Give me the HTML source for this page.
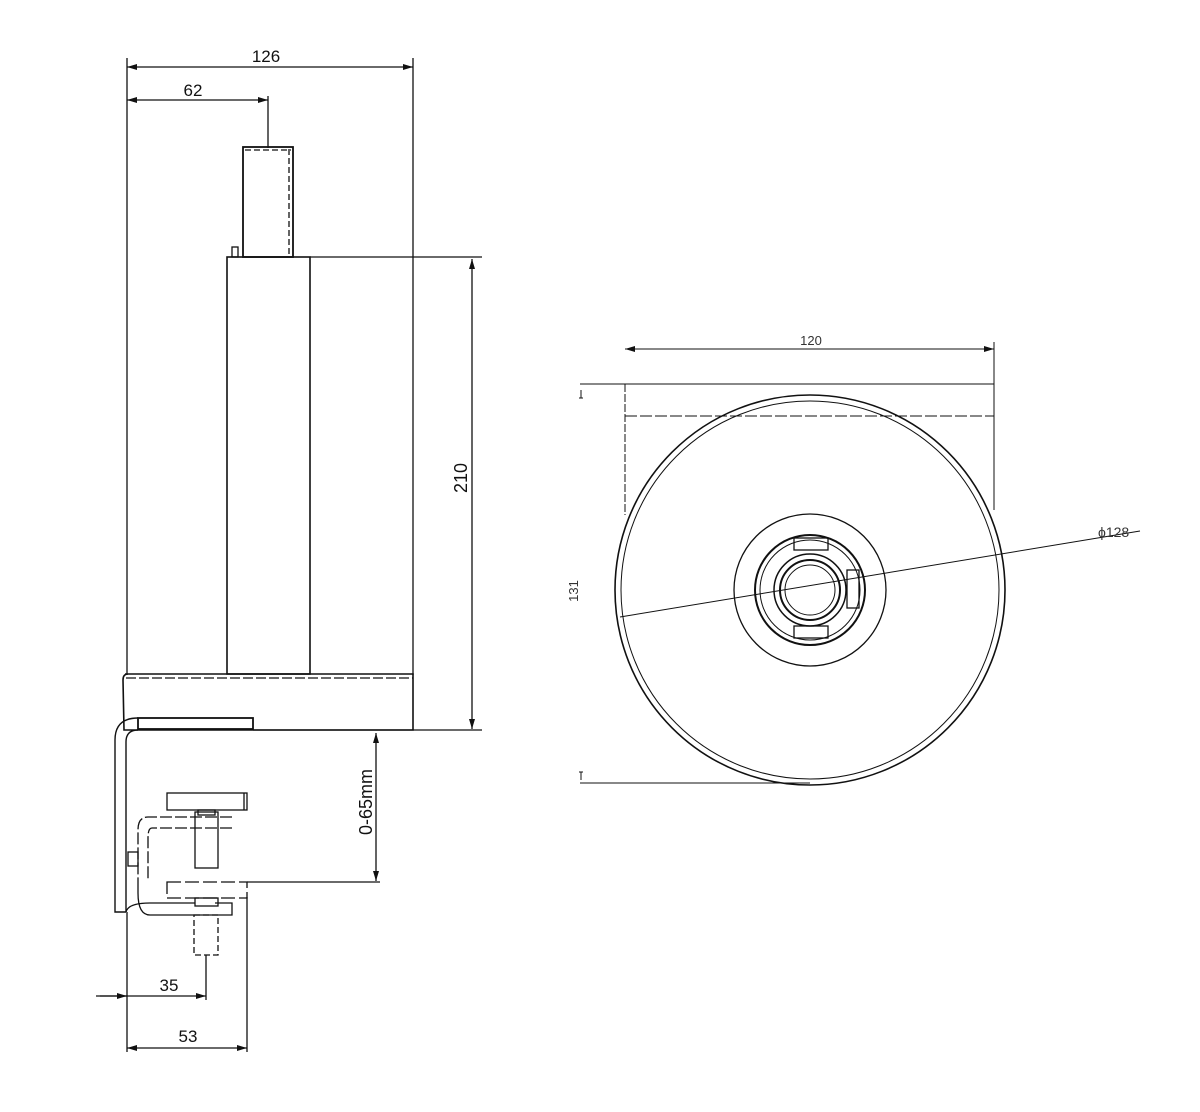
<!DOCTYPE html>
<html><head><meta charset="utf-8"><style>body{margin:0;background:#fff}svg{display:block}</style></head>
<body>
<svg width="1200" height="1112" viewBox="0 0 1200 1112" xmlns="http://www.w3.org/2000/svg" font-family="Liberation Sans, sans-serif" fill="none" stroke="#111" stroke-width="1.3">
<defs>
<marker id="a" viewBox="0 0 10 6" refX="10" refY="3" markerWidth="14" markerHeight="6" orient="auto-start-reverse" markerUnits="userSpaceOnUse"><path d="M0,0 L10,3 L0,6 z" fill="#111" stroke="none"/></marker>
</defs>
<!-- LEFT VIEW dims -->
<line x1="127" y1="58" x2="127" y2="675"/>
<line x1="413" y1="58" x2="413" y2="675"/>
<line x1="127" y1="67" x2="413" y2="67" marker-start="url(#a)" marker-end="url(#a)"/>
<text x="266" y="62" font-size="17" fill="#111" stroke="none" text-anchor="middle">126</text>
<line x1="127" y1="100" x2="268" y2="100" marker-start="url(#a)" marker-end="url(#a)"/>
<line x1="268" y1="96" x2="268" y2="148"/>
<text x="193" y="96" font-size="17" fill="#111" stroke="none" text-anchor="middle">62</text>
<!-- post -->
<rect x="243" y="147" width="50" height="110" stroke-width="1.8"/>
<line x1="289" y1="149" x2="289" y2="256" stroke-dasharray="6,3"/>
<line x1="245" y1="150" x2="291" y2="150" stroke-dasharray="6,3"/>
<rect x="232" y="247" width="6" height="10"/>
<!-- tube -->
<rect x="227" y="257" width="83" height="417" stroke-width="1.6"/>
<line x1="310" y1="257" x2="482" y2="257"/>
<line x1="472" y1="259" x2="472" y2="729" marker-start="url(#a)" marker-end="url(#a)"/>
<text font-size="18" fill="#111" stroke="none" text-anchor="middle" transform="translate(467,478) rotate(-90)">210</text>
<!-- base -->
<path d="M125,674 L413,674 L413,730 L124,730 L123,680 Q123,674 128,674" stroke-width="1.6"/>
<line x1="126" y1="678" x2="413" y2="678" stroke-dasharray="10,3"/>
<line x1="253" y1="730" x2="482" y2="730"/>
<rect x="138" y="718" width="115" height="11" stroke-width="1.8"/>
<!-- bracket -->
<path d="M138,718 Q115,718 115,740 L115,912 L126,912" stroke-width="1.4"/>
<path d="M138,730 Q126,730 126,742 L126,912" stroke-width="1.4"/>
<line x1="376" y1="733" x2="376" y2="881" marker-start="url(#a)" marker-end="url(#a)"/>
<text font-size="18" fill="#111" stroke="none" text-anchor="middle" transform="translate(372,802) rotate(-90)">0-65mm</text>
<!-- knob -->
<rect x="167" y="793" width="80" height="17"/>
<line x1="244" y1="793" x2="244" y2="810"/>
<rect x="195" y="812" width="23" height="56"/>
<rect x="198" y="810" width="17" height="5"/>
<path d="M232,817 L148,817 Q138,817 138,830 L138,880" stroke-dasharray="12,3"/>
<path d="M232,828 L152,828 Q148,828 148,838 L148,880" stroke-dasharray="12,3"/>
<rect x="128" y="852" width="10" height="14"/>
<!-- lower pad -->
<rect x="167" y="882" width="80" height="16" stroke-dasharray="14,4"/>
<line x1="247" y1="882" x2="380" y2="882"/>
<path d="M138,880 L138,893 Q138,915 150,915 L232,915 L232,903 L215,903" stroke-width="1.3"/>
<path d="M126,912 Q128,903 150,903 L195,903"/>
<rect x="195" y="898" width="23" height="8"/>
<rect x="194" y="915" width="24" height="40" stroke-dasharray="6,3"/>
<line x1="206" y1="955" x2="206" y2="1000"/>
<line x1="127" y1="912" x2="127" y2="1052"/>
<line x1="247" y1="897" x2="247" y2="1052"/>
<line x1="96" y1="996" x2="206" y2="996" marker-end="url(#a)"/>
<line x1="100" y1="996" x2="127" y2="996" marker-end="url(#a)"/>
<text x="169" y="991" font-size="17" fill="#111" stroke="none" text-anchor="middle">35</text>
<line x1="127" y1="1048" x2="247" y2="1048" marker-start="url(#a)" marker-end="url(#a)"/>
<text x="188" y="1042" font-size="17" fill="#111" stroke="none" text-anchor="middle">53</text>
<!-- RIGHT VIEW -->
<line x1="625" y1="349" x2="994" y2="349" marker-start="url(#a)" marker-end="url(#a)" stroke-width="1"/>
<text x="811" y="345" font-size="13" fill="#333" stroke="none" text-anchor="middle">120</text>
<line x1="994" y1="342" x2="994" y2="510" stroke-width="1"/>
<line x1="580" y1="384" x2="994" y2="384" stroke-width="1"/>
<line x1="625" y1="384" x2="625" y2="515" stroke-width="1" stroke-dasharray="8,2"/>
<line x1="625" y1="416" x2="994" y2="416" stroke-width="1" stroke-dasharray="12,3"/>
<line x1="580" y1="783" x2="810" y2="783" stroke-width="1"/>
<path d="M581,390 v8 M579,398 h4 M581,772 v8 M579,772 h4" stroke-width="1"/>
<text font-size="13" fill="#333" stroke="none" text-anchor="middle" transform="translate(578,591) rotate(-90)">131</text>
<circle cx="810" cy="590" r="195" stroke-width="1.6"/>
<circle cx="810" cy="590" r="189" stroke-width="1"/>
<circle cx="810" cy="590" r="76" stroke-width="1.3"/>
<circle cx="810" cy="590" r="55" stroke-width="2"/>
<circle cx="810" cy="590" r="50" stroke-width="1"/>
<circle cx="810" cy="590" r="36" stroke-width="1.5"/>
<circle cx="810" cy="590" r="30" stroke-width="2"/>
<circle cx="810" cy="590" r="25" stroke-width="1"/>
<rect x="794" y="538" width="34" height="12"/>
<rect x="794" y="626" width="34" height="12"/>
<rect x="847" y="570" width="12" height="38"/>
<line x1="620" y1="617" x2="1140" y2="531" stroke-width="1"/>
<text x="1098" y="537" font-size="14" fill="#333" stroke="none">ϕ128</text>
</svg>
</body></html>
